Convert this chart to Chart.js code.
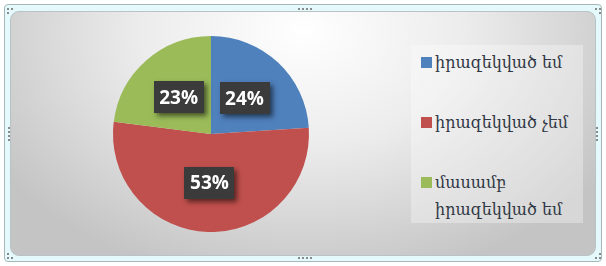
<!DOCTYPE html>
<html><head><meta charset="utf-8">
<script src="https://cdn.jsdelivr.net/npm/chart.js@4/dist/chart.umd.min.js"></script>
<style>
html,body{margin:0;padding:0;width:606px;height:266px;overflow:hidden;background:#fff;}
#frame{position:absolute;left:4px;top:4px;width:596px;height:256px;border:1px solid #a9b7ba;border-radius:4px;background:#e3f9fb;}
#inner{position:absolute;left:10px;top:11px;width:586px;height:245px;border-radius:9px;border:1px solid #b9c3c5;box-sizing:border-box;
 background:radial-gradient(ellipse 62% 105% at 50% 8%, #ffffff 0%, #ececec 45%, #c4c4c4 100%);}
canvas{position:absolute;left:0;top:0;}
#legend{position:absolute;left:411px;top:45px;width:172px;height:178px;background:rgba(255,255,255,0.32);}
.item{position:absolute;left:10px;font-family:"DejaVu Serif",serif;font-size:16px;color:#303845;line-height:27px;}
.sw{position:absolute;left:0;top:8px;width:11px;height:11px;}
.txt{position:absolute;left:14px;top:0;white-space:nowrap;}
.dots{position:absolute;}
.dots i{position:absolute;width:2px;height:2px;background:#8a8a8a;}
</style></head>
<body>
<div id="frame"></div>
<div id="inner"></div>
<div id="legend"></div>
<canvas id="c" width="606" height="266"></canvas>
<script>
const categories = ["իրազեկված եմ", "իրազեկված չեմ", "մասամբ իրազեկված եմ"];
const legendLines = [["իրազեկված եմ"], ["իրազեկված չեմ"], ["մասամբ", "իրազեկված եմ"]];
const values = [24, 53, 23];
const colors = ["#4f81bd", "#c0504d", "#9bbb59"];

// handles
function dots(x, y, horiz, n){
  const d=document.createElement('div');d.className='dots';d.style.left=x+'px';d.style.top=y+'px';
  for(let i=0;i<n;i++){const e=document.createElement('i');if(horiz){e.style.left=(i*4)+'px';e.style.top='0px';}else{e.style.top=(i*4)+'px';e.style.left='0px';}d.appendChild(e);}
  document.body.appendChild(d);
}
dots(298,8,true,4); dots(298,257,true,4); dots(8,127,false,4); dots(596,127,false,4);
dots(7,8,true,2); dots(7,12,false,1); dots(595,8,true,2); dots(599,12,false,1);
dots(7,257,true,2); dots(7,253,false,1); dots(595,257,true,2); dots(599,253,false,1);

// legend
const legendTops=[4,64,124];
const leg=document.getElementById('legend');
categories.forEach((c,i)=>{
  const it=document.createElement('div');it.className='item';it.style.top=legendTops[i]+'px';
  const sw=document.createElement('div');sw.className='sw';sw.style.background=colors[i];it.appendChild(sw);
  const t=document.createElement('div');t.className='txt';t.innerHTML=legendLines[i].join('<br>');it.appendChild(t);
  leg.appendChild(it);
});

const labelPlugin={
  id:'pctLabels',
  afterDatasetsDraw(chart){
    const ctx=chart.ctx;
    const meta=chart.getDatasetMeta(0);
    meta.data.forEach((arc,i)=>{
      const p=arc.tooltipPosition();
      const w=50,h=32;
      const x=Math.round(p.x-w/2), y=Math.round(p.y-h/2);
      ctx.save();
      ctx.shadowColor='rgba(0,0,0,0.55)';ctx.shadowBlur=5;ctx.shadowOffsetX=3;ctx.shadowOffsetY=3;
      ctx.fillStyle='#3b3b3b';ctx.fillRect(x,y,w,h);
      ctx.restore();
      ctx.save();
      ctx.fillStyle='#ffffff';ctx.font='bold 19px "Open Sans", "DejaVu Sans", sans-serif';
      ctx.textAlign='center';ctx.textBaseline='middle';
      ctx.fillText(values[i]+'%',p.x,p.y+1);
      ctx.restore();
    });
  }
};

new Chart(document.getElementById('c'),{
  type:'pie',
  data:{labels:categories,datasets:[{data:values,backgroundColor:colors,borderWidth:0}]},
  options:{
    responsive:false,animation:false,
    layout:{padding:{left:113,right:297,top:36,bottom:34}},
    plugins:{legend:{display:false},tooltip:{enabled:false}}
  },
  plugins:[labelPlugin]
});
</script>
</body></html>
